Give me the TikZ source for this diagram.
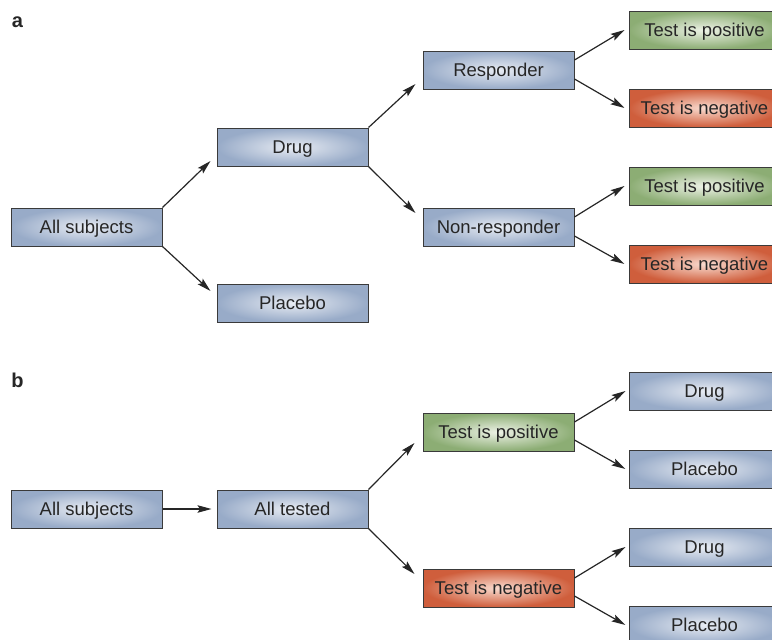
\documentclass[tikz,border=0pt]{standalone}
\usepackage{fontspec}
\setmainfont{Liberation Sans}
\usetikzlibrary{calc,arrows.meta}

\definecolor{boxline}{HTML}{3A3A3A}
\definecolor{inktext}{HTML}{262626}
\definecolor{blueedge}{HTML}{98ABC8}
\definecolor{bluemid}{HTML}{E8ECF3}
\definecolor{greenedge}{HTML}{8CAD74}
\definecolor{greenmid}{HTML}{EDF2E6}
\definecolor{rededge}{HTML}{CF5E3C}
\definecolor{redmid}{HTML}{F9DBCF}

\tikzset{
  box/.style={draw=boxline, line width=1pt, minimum width=151pt, minimum height=38pt,
    inner sep=0pt, text height=13pt, text depth=0pt, text=inktext,
    font=\fontsize{18.5}{21}\selectfont, shading=radial},
  bluebox/.style={box, inner color=bluemid, outer color=blueedge},
  greenbox/.style={box, inner color=greenmid, outer color=greenedge},
  redbox/.style={box, inner color=redmid, outer color=rededge},
  arr/.style={line width=1.2pt, color=inktext, -{Stealth[length=14pt,width=7.5pt,inset=2.5pt]}},
  panel/.style={font=\fontsize{20}{22}\selectfont\bfseries, text=inktext, anchor=base, inner sep=0pt}
}

\begin{document}
\begin{tikzpicture}[x=1pt, y=-1pt]
	%%%%% START %%%%%
	\useasboundingbox (0,0) rectangle (772,640);
	\clip (0,0) rectangle (772,640);
	
	%% panel a
	\node[panel] (labA) at (17.5, 27) {a};
	
	\node[bluebox] (subjA) at (86.5, 227) {All subjects};
	\node[bluebox] (drugA) at (292.5, 147) {Drug};
	\node[bluebox] (placA) at (292.5, 303) {Placebo};
	\node[bluebox] (resp) at (498.5, 70) {Responder};
	\node[bluebox] (nonresp) at (498.5, 227) {Non-responder};
	
	\node[greenbox] (posR) at (704.5, 30) {Test is positive};
	\node[redbox] (negR) at (704.5, 108) {Test is negative};
	\node[greenbox] (posN) at (704.5, 186) {Test is positive};
	\node[redbox] (negN) at (704.5, 264) {Test is negative};
	
	\draw[arr] (subjA.north east) -- ($(drugA.west)+(-6,14)$);
	\draw[arr] (subjA.south east) -- ($(placA.west)+(-6,-12)$);
	\draw[arr] (drugA.north east) -- ($(resp.west)+(-7,14)$);
	\draw[arr] (drugA.south east) -- ($(nonresp.west)+(-7,-14)$);
	
	\draw[arr] ($(resp.east)+(0,-10)$) -- ($(posR.west)+(-4,0)$);
	\draw[arr] ($(resp.east)+(0,9)$) -- ($(negR.west)+(-4,0)$);
	\draw[arr] ($(nonresp.east)+(0,-10)$) -- ($(posN.west)+(-4,0)$);
	\draw[arr] ($(nonresp.east)+(0,9)$) -- ($(negN.west)+(-4,0)$);
	
	%% panel b
	\node[panel] (labB) at (17.5, 387) {b};
	
	\node[bluebox] (subjB) at (86.5, 509) {All subjects};
	\node[bluebox] (tested) at (292.5, 509) {All tested};
	\node[greenbox] (posB) at (498.5, 432) {Test is positive};
	\node[redbox] (negB) at (498.5, 588) {Test is negative};
	
	\node[bluebox] (drugP) at (704.5, 391) {Drug};
	\node[bluebox] (placP) at (704.5, 469) {Placebo};
	\node[bluebox] (drugN) at (704.5, 547) {Drug};
	\node[bluebox] (placN) at (704.5, 625) {Placebo};
	
	\draw[arr] (subjB.east) -- ($(tested.west)+(-5,0)$);
	\draw[arr] (tested.north east) -- ($(posB.west)+(-8,11)$);
	\draw[arr] (tested.south east) -- ($(negB.west)+(-8,-14)$);
	
	\draw[arr] ($(posB.east)+(0,-10)$) -- ($(drugP.west)+(-3,0)$);
	\draw[arr] ($(posB.east)+(0,8)$) -- ($(placP.west)+(-3,0)$);
	\draw[arr] ($(negB.east)+(0,-10)$) -- ($(drugN.west)+(-3,0)$);
	\draw[arr] ($(negB.east)+(0,8)$) -- ($(placN.west)+(-3,0)$);
	
	%%%%% END %%%%%
\end{tikzpicture}
\end{document}
